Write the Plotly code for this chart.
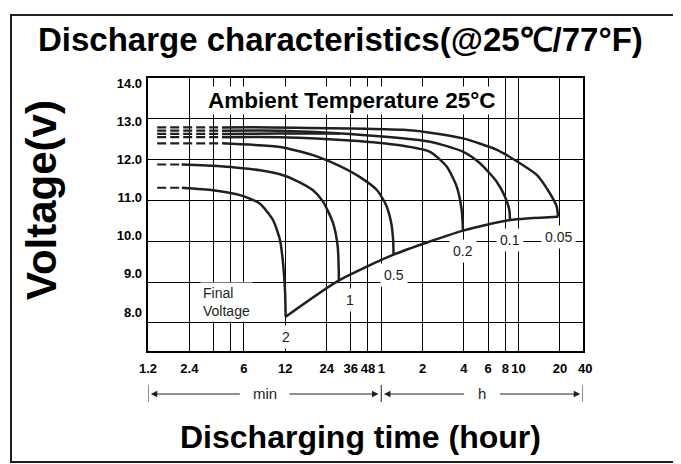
import math
import plotly.graph_objects as go

# ---------------- data (time in minutes, voltage in V) ----------------
x_tickvals = [1.2, 2.4, 3.6, 4.8, 6, 12, 24, 36, 48, 60, 120, 240, 360, 480, 600, 1200]
x_ticktext = ["1.2", "2.4", "", "", "6", "12", "24", "36", "48", "1", "2", "4", "6", "8", "10", "20"]
y_ticks = [8, 9, 10, 11, 12, 13, 14]
y_ticktext = ["8.0", "9.0", "10.0", "11.0", "12.0", "13.0", "14.0"]

rate_labels = ["0.05", "0.1", "0.2", "0.5", "1", "2"]

t_005 = [4.15, 9.3, 86.4, 135.9, 236.3, 417.9, 614.8, 817.6, 1016, 1137, 1163]
v_005 = [12.79, 12.79, 12.73, 12.66, 12.52, 12.24, 11.91, 11.62, 11.17, 10.85, 10.60]

t_01 = [4.15, 10.98, 35.5, 135.9, 237.5, 314.2, 415.8, 478.1, 513.5, 519.6]
v_01 = [12.71, 12.71, 12.63, 12.44, 12.19, 11.91, 11.46, 11.09, 10.77, 10.52]

t_01b = [4.15, 10.98, 30.0]
v_01b = [12.63, 12.64, 12.64]

t_02 = [4.15, 10.98, 35.5, 82.1, 135.9, 179.7, 212.6, 231.2, 236.3]
v_02 = [12.55, 12.55, 12.47, 12.35, 12.19, 11.83, 11.34, 10.76, 10.26]

t_05 = [4.15, 10.98, 19.1, 30.0, 42.0, 55.9, 65.0, 70.7, 73.2, 73.7]
v_05 = [12.40, 12.31, 12.11, 11.84, 11.57, 11.25, 10.89, 10.47, 10.03, 9.67]

t_1 = [2.11, 4.02, 7.85, 10.98, 14.12, 19.1, 22.6, 26.7, 28.9, 29.5]
v_1 = [11.88, 11.84, 11.74, 11.64, 11.50, 11.25, 10.97, 10.45, 9.87, 9.04]

t_2 = [2.12, 3.57, 5.62, 7.85, 9.76, 10.98, 11.55, 11.94, 12.08]
v_2 = [11.31, 11.25, 11.13, 10.92, 10.52, 10.03, 9.47, 8.80, 8.15]

final_t = [12.08, 29.5, 73.7, 236.3, 519.6, 1163]
final_v = [8.15, 9.04, 9.67, 10.26, 10.52, 10.60]

dash_start_t = 1.4          # dashed extension of every curve starts here
x_range = [1.2, 1768]
y_range = [7.31, 14.0]
label_axis_range = [6.979, 14.131]   # tick-label axis (labels drift from grid in source)
min_span = [1.2, 60]
hour_span = [60, 1768]

# ---------------- styling ----------------
INK = "#231f20"
FONT = "Liberation Sans, Arial, sans-serif"
OFF = 8                      # page body margin
W, H = 681 - OFF, 464 - OFF
ML, MT = 148 - OFF, 78 - OFF
MR, MB = 98, 113
PW, PH = W - ML - MR, H - MT - MB
LX0, LX1 = math.log10(x_range[0]), math.log10(x_range[1])
PX_PER_DEC = PW / (LX1 - LX0)


def px_x(p):
    return (p - OFF - ML) / PW


def px_y(p):
    return (H - MB - (p - OFF)) / PH


fig = go.Figure()

curves = [(t_005, v_005), (t_01, v_01), (t_01b, v_01b), (t_02, v_02),
          (t_05, v_05), (t_1, v_1), (t_2, v_2)]
for t, v in curves:
    fig.add_trace(go.Scatter(x=[dash_start_t, t[0]], y=[v[0], v[0]], mode="lines",
                             line=dict(color=INK, width=2.2, dash="9px,4px"),
                             hoverinfo="skip", showlegend=False))
    fig.add_trace(go.Scatter(x=t, y=v, mode="lines",
                             line=dict(color=INK, width=2.5, shape="spline", smoothing=0.6),
                             hoverinfo="skip", showlegend=False))

fig.add_trace(go.Scatter(x=final_t, y=final_v, mode="lines",
                         line=dict(color=INK, width=2.5, shape="spline", smoothing=0.6),
                         hoverinfo="skip", showlegend=False))

fig.add_trace(go.Scatter(x=[x_range[0]] * len(y_ticks), y=y_ticks, yaxis="y2", mode="markers",
                         marker=dict(opacity=0), hoverinfo="skip", showlegend=False))

ann = []
xshifts = [0, 0, 0, 0, 11, 0]
for lab, t, v, xs in zip(rate_labels[::-1], final_t, final_v, xshifts[::-1]):
    ann.append(dict(x=math.log10(t), y=v, xref="x", yref="y", text=lab, showarrow=False,
                    yshift=-20, xshift=xs, bgcolor="white", borderpad=3,
                    xanchor="center", yanchor="middle",
                    font=dict(family=FONT, size=14, color=INK)))

ann.append(dict(x=math.log10(2.88), y=8.51, xref="x", yref="y", text="Final<br>Voltage",
                xanchor="left", yanchor="middle", align="left", showarrow=False,
                bgcolor="white", borderpad=2, font=dict(family=FONT, size=14, color=INK)))
ann.append(dict(x=math.log10(3.17), y=13.44, xref="x", yref="y", text="Ambient Temperature 25°C",
                xanchor="left", yanchor="middle", showarrow=False, bgcolor="white", borderpad=1,
                font=dict(family=FONT, size=22.5, color="black", weight="bold")))
ann.append(dict(x=LX1, y=0, xref="x", yref="paper", text="40", xanchor="center", yanchor="top",
                xshift=2, yshift=-8, showarrow=False,
                font=dict(family=FONT, size=13, color="black", weight="bold")))

ann.append(dict(x=px_x(340), y=px_y(39), xref="paper", yref="paper",
                xanchor="center", yanchor="middle",
                text="Discharge characteristics(@25℃/77°F)", showarrow=False,
                font=dict(family=FONT, size=33, color="black", weight="bold")))
ann.append(dict(x=px_x(41), y=px_y(200), xref="paper", yref="paper", text="Voltage(v)",
                xanchor="center", yanchor="middle", textangle=-90, showarrow=False,
                font=dict(family=FONT, size=42, color="black", weight="bold")))
ann.append(dict(x=px_x(360), y=px_y(437), xref="paper", yref="paper",
                xanchor="center", yanchor="middle",
                text="Discharging time (hour)", showarrow=False,
                font=dict(family=FONT, size=32, color="black", weight="bold")))

arrow_y = px_y(394)
for (a, b), word in ((min_span, "min"), (hour_span, "h")):
    la, lb = math.log10(a), math.log10(b)
    mid = (la + lb) / 2
    gap = 0.17 if word == "min" else 0.12
    ann.append(dict(x=mid, y=arrow_y, xref="x", yref="paper", text=word, showarrow=False,
                    xanchor="center", yanchor="middle",
                    font=dict(family=FONT, size=15, color=INK)))
    head_l = la + 0.02
    head_r = lb - 0.02
    ann.append(dict(x=head_l, y=arrow_y, xref="x", yref="paper",
                    ax=(mid - gap - head_l) * PX_PER_DEC, ay=0, axref="pixel", ayref="pixel",
                    text="", showarrow=True, arrowhead=2, arrowsize=1.3, arrowwidth=1,
                    arrowcolor=INK, standoff=0, startstandoff=0))
    ann.append(dict(x=head_r, y=arrow_y, xref="x", yref="paper",
                    ax=(mid + gap - head_r) * PX_PER_DEC, ay=0, axref="pixel", ayref="pixel",
                    text="", showarrow=True, arrowhead=2, arrowsize=1.3, arrowwidth=1,
                    arrowcolor=INK, standoff=0, startstandoff=0))

shapes = []
for xv in (min_span[0], min_span[1], hour_span[1]):
    shapes.append(dict(type="line", xref="x", yref="paper", x0=xv, x1=xv,
                       y0=px_y(385), y1=px_y(402), line=dict(color=INK, width=1)))
shapes.append(dict(type="rect", xref="paper", yref="paper", x0=px_x(11), x1=px_x(675),
                   y0=px_y(462), y1=px_y(15), line=dict(color=INK, width=2), layer="below"))

fig.update_layout(
    width=W, height=H, autosize=False,
    margin=dict(l=ML, r=MR, t=MT, b=MB),
    paper_bgcolor="white", plot_bgcolor="white",
    showlegend=False,
    xaxis=dict(type="log", range=[LX0, LX1],
               tickvals=x_tickvals, ticktext=x_ticktext, showgrid=True, gridcolor="black",
               gridwidth=1.3, showline=True, linecolor="black", linewidth=1.5, mirror=True,
               ticks="", ticklabelstandoff=5, zeroline=False,
               tickfont=dict(family=FONT, size=13, color="black", weight="bold")),
    yaxis=dict(range=y_range, tickvals=y_ticks[:-1], showticklabels=False, showgrid=True,
               gridcolor="black", gridwidth=1.3, showline=True, linecolor="black",
               linewidth=1.5, mirror=True, ticks="", zeroline=False),
    yaxis2=dict(range=label_axis_range, overlaying="y", side="left", tickvals=y_ticks,
                ticktext=y_ticktext, showgrid=False, zeroline=False, showline=False, ticks="",
                ticklabelstandoff=5,
                tickfont=dict(family=FONT, size=13, color="black", weight="bold")),
    annotations=ann, shapes=shapes,
)

fig.write_html("out.html")
